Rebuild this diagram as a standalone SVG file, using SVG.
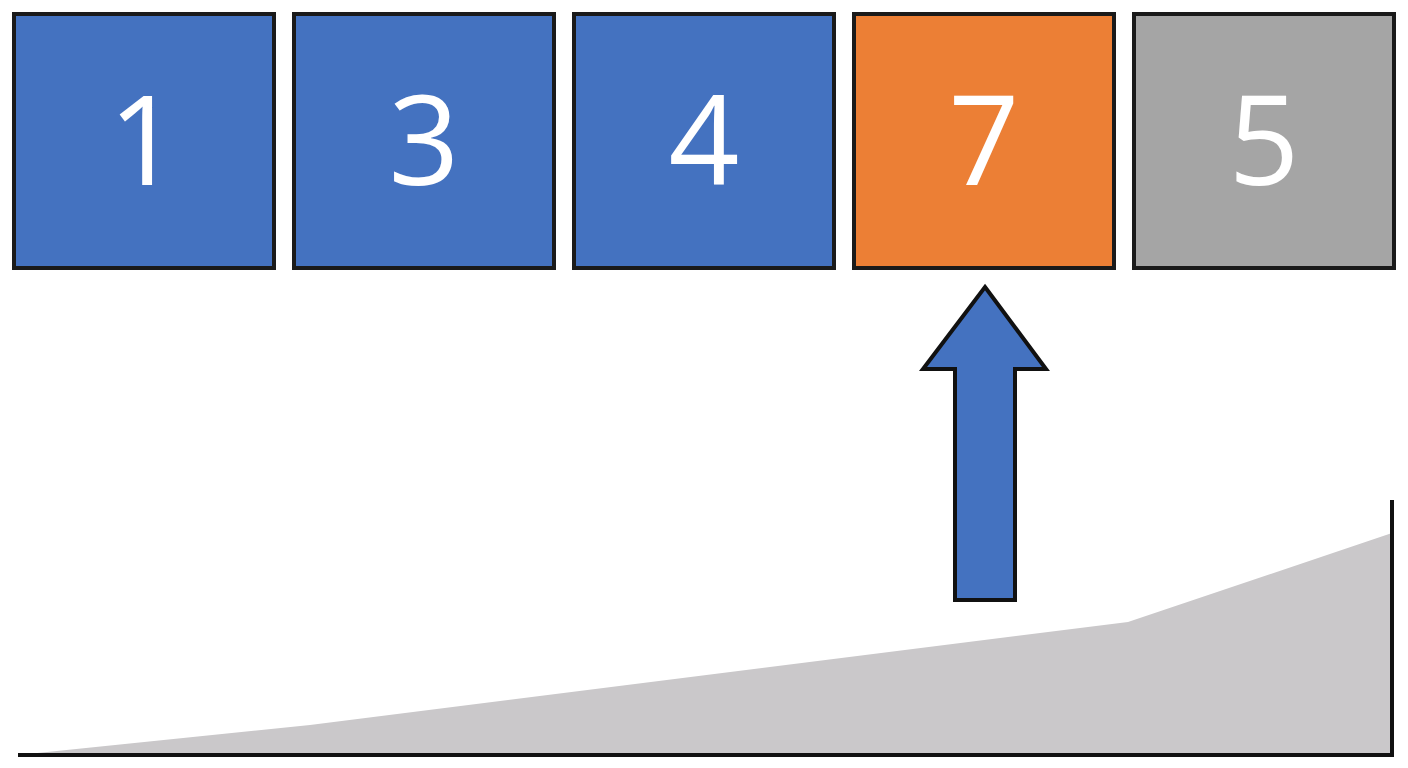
<svg xmlns="http://www.w3.org/2000/svg" width="1408" height="768" viewBox="0 0 1408 768">
<style>
.b{stroke:#1a1a1a;stroke-width:4}
.t{font-family:"Open Sans","Liberation Sans",sans-serif;font-size:124px;font-weight:500;fill:#fff;text-anchor:middle}
</style>
<rect width="1408" height="768" fill="#fff"/>
<polygon points="18,755 310,725 1128,622 1392,533 1392,755" fill="#cac8ca"/>
<g id="axes" fill="none" stroke="#111" stroke-width="4">
<polyline points="18,755 1392,755 1392,500"/>
</g>
<g id="n1"><rect class="b" x="14" y="14" width="260" height="254" fill="#4472c0"/><text class="t" x="144" y="185">1</text></g>
<g id="n3"><rect class="b" x="294" y="14" width="260" height="254" fill="#4472c0"/><text class="t" x="424" y="185">3</text></g>
<g id="n4"><rect class="b" x="574" y="14" width="260" height="254" fill="#4472c0"/><text class="t" x="704" y="185">4</text></g>
<g id="n7"><rect class="b" x="854" y="14" width="260" height="254" fill="#ec7f35"/><text class="t" x="984" y="185">7</text></g>
<g id="n5"><rect class="b" x="1134" y="14" width="260" height="254" fill="#a5a5a5"/><text class="t" x="1264" y="185">5</text></g>
<g id="connectors">
<polygon points="985,287 1046,369 1015,369 1015,600 955,600 955,369 923,369" fill="#4472c0" stroke="#111" stroke-width="4" stroke-linejoin="miter"/>
</g>
</svg>
